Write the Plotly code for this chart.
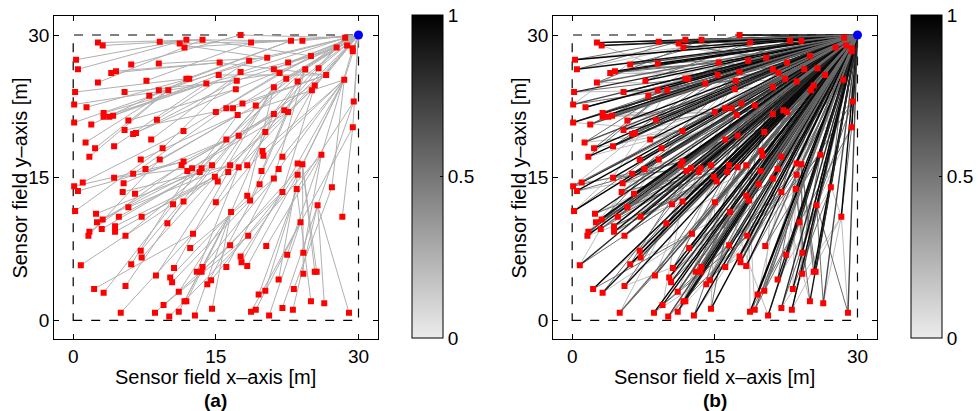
import numpy as np
import plotly.graph_objects as go

# ---------------- data (metres) ----------------
SENSOR_X = [
    2.6, 3.1, 9.1, 11.2, 11.9, 11.7, 13.6, 0.3, 0.5, 6.1, 9.0, 4.0, 4.5, 2.6, 7.7, 11.9, 12.2, 14.0,
    0.2, 5.4, 8.0, 9.0, 10.0, 0.1, 1.4, 3.2, 3.2, 3.8, 4.2, 0.1, 1.9, 5.8, 8.8, 5.4, 6.3, 6.6, 11.6,
    1.3, 2.3, 4.3, 8.2, 9.4, 1.7, 7.1, 9.1, 11.6, 11.4, 12.5, 12.0, 13.5, 13.3, 7.6,
    17.6, 18.7, 22.9, 24.1, 28.6, 27.7, 28.8, 29.4, 29.4, 15.4, 18.5, 20.4, 25.0, 22.6, 15.3, 17.6,
    21.1, 21.7, 24.4, 25.8, 26.6, 28.5, 17.2, 22.4, 23.6, 17.1, 21.1, 25.4, 25.1, 29.5, 15.0, 16.1,
    16.8, 17.8, 19.2, 17.3, 21.1, 22.2, 22.6, 29.4, 17.4, 16.1, 20.2, 19.9, 20.0, 22.0, 26.1, 14.6,
    16.5, 17.4, 18.3, 23.6, 24.1, 16.3, 19.8, 21.6,
    4.3, 6.3, 1.0, 0.1, 0.5, 5.3, 5.2, 6.5, 10.5, 11.6, 5.8, 0.2, 2.4, 4.8, 7.2, 3.1, 2.5, 3.0, 4.4,
    4.4, 1.7, 1.6, 5.5, 9.9, 12.6, 12.3, 7.1, 7.2, 6.1, 0.8, 10.6, 13.0, 13.5, 13.6, 8.7, 10.2, 10.4,
    5.5, 14.1, 2.2, 3.2, 11.1, 11.7, 11.9, 9.5, 5.0, 8.6, 11.1, 10.1, 12.8,
    14.9, 15.2, 23.6, 21.1, 19.6, 22.0, 23.5, 27.2, 18.3, 18.6, 15.0, 25.7, 16.6, 28.3, 23.9, 18.4,
    20.3, 16.5, 22.5, 24.2, 17.6, 17.7, 18.3, 16.1, 14.5, 21.6, 24.2, 25.4, 25.6, 23.2, 20.2, 19.5,
    25.0, 26.4, 14.6, 22.0, 23.1, 19.2, 18.7, 20.6, 29.0,
]
SENSOR_Y = [
    29.2, 28.9, 29.3, 29.1, 29.5, 28.7, 29.5, 27.4, 26.4, 26.9, 27.0, 26.0, 26.2, 25.0, 25.2, 25.4, 25.4, 24.9,
    24.0, 24.0, 23.6, 24.2, 24.2, 22.7, 22.4, 21.8, 21.4, 21.4, 21.5, 20.8, 20.6, 21.0, 21.1, 20.0, 19.6, 19.7, 19.9,
    18.7, 18.1, 18.3, 19.0, 18.1, 17.2, 16.9, 16.9, 16.7, 16.3, 16.0, 15.7, 16.0, 15.6, 15.9,
    30.0, 29.2, 29.4, 29.4, 29.7, 28.7, 28.9, 28.6, 28.3, 27.1, 27.3, 27.6, 27.8, 27.1, 25.8, 26.1,
    26.4, 26.0, 26.4, 26.5, 25.8, 25.3, 25.2, 25.4, 25.1, 24.3, 24.5, 24.7, 24.2, 23.0, 21.9, 22.3,
    22.3, 22.8, 22.6, 21.6, 21.7, 22.1, 21.9, 20.3, 19.4, 19.0, 19.8, 17.8, 17.3, 17.2, 17.4, 16.3,
    16.3, 16.1, 16.3, 16.5, 16.4, 15.6, 15.7, 15.9,
    15.0, 15.4, 14.5, 14.1, 13.6, 14.4, 13.5, 13.3, 12.2, 12.5, 11.9, 11.5, 11.2, 10.9, 10.9, 10.6, 10.3, 9.6, 9.9,
    9.3, 9.3, 8.9, 8.9, 10.2, 9.1, 7.6, 7.3, 6.6, 5.9, 5.8, 5.5, 5.1, 5.1, 5.6, 4.7, 4.5, 4.0,
    3.6, 3.8, 3.3, 2.9, 3.0, 2.0, 2.0, 1.6, 0.8, 0.8, 0.9, 0.4, 0.5,
    15.1, 14.6, 15.3, 14.9, 14.3, 13.5, 13.8, 14.0, 13.1, 12.6, 12.4, 12.1, 11.4, 10.9, 10.3, 8.9,
    7.8, 7.9, 6.9, 7.1, 6.7, 6.1, 5.7, 5.6, 4.2, 4.3, 4.9, 5.1, 5.1, 3.3, 3.1, 2.7,
    2.0, 1.8, 1.2, 1.3, 1.1, 1.1, 0.9, 0.5, 0.8,
]
SINK_X = [30.0]
SINK_Y = [30.0]
FIELD = [0, 30]
AXIS_TICKS = [0, 15, 30]
AXIS_RANGE = [-2, 32]
CBAR_TICKS = [0, 0.5, 1]
CBAR_LABELS = ["0", "0.5", "1"]
PANEL_LABELS = ["(a)", "(b)"]
X_TITLE = "Sensor field x\u2013axis [m]"
Y_TITLE = "Sensor field y\u2013axis [m]"

# ---------------- routing links derived from the node positions ----------------
px = np.array(SENSOR_X)
py = np.array(SENSOR_Y)
sx, sy = SINK_X[0], SINK_Y[0]
n = len(px)
d_sink = np.hypot(px - sx, py - sy)
RADIO_RANGE = 12.0

first_links, second_links = [], []
for i in range(n):
    cands = []
    if d_sink[i] <= RADIO_RANGE:
        cands.append((d_sink[i], -1))
    for j in range(n):
        if j != i and d_sink[j] < d_sink[i] - 0.5 and np.hypot(px[i] - px[j], py[i] - py[j]) <= RADIO_RANGE:
            cands.append((d_sink[i] - d_sink[j], j))
    cands.sort(key=lambda c: -c[0])
    if cands:
        first_links.append((i, cands[0][1]))
    if len(cands) > 1:
        second_links.append((i, cands[1][1]))


def seg_xy(links):
    xs, ys = [], []
    for i, j in links:
        x2, y2 = (sx, sy) if j < 0 else (px[j], py[j])
        xs += [px[i], x2, None]
        ys += [py[i], y2, None]
    return xs, ys


FONT = "Liberation Sans, Arial, Helvetica, sans-serif"
GRAY_SCALE = [[0.0, "rgb(236,236,236)"], [1.0, "rgb(0,0,0)"]]

fig = go.Figure()

for k, (xa, ya) in enumerate([("x", "y"), ("x2", "y2")]):
    if k == 1:
        xs, ys = seg_xy(second_links)
        fig.add_trace(go.Scatter(x=xs, y=ys, mode="lines", xaxis=xa, yaxis=ya,
                                 line=dict(color="#bdbdbd", width=1), hoverinfo="skip"))
    xs, ys = seg_xy(first_links)
    fig.add_trace(go.Scatter(x=xs, y=ys, mode="lines", xaxis=xa, yaxis=ya,
                             line=dict(color="#b0b0b0" if k == 0 else "#6e6e6e", width=1), hoverinfo="skip"))
    if k == 1:
        # direct links of every node to the sink, in several grey levels
        levels = ["#000000", "#141414", "#4a4a4a", "#050505", "#2a2a2a", "#0a0a0a", "#6a6a6a"]
        for li, col in enumerate(levels):
            idx = [i for i in range(n) if i % len(levels) == li]
            xs, ys = seg_xy([(i, -1) for i in idx])
            fig.add_trace(go.Scatter(x=xs, y=ys, mode="lines", xaxis=xa, yaxis=ya,
                                     line=dict(color=col, width=1.4), hoverinfo="skip"))
    # sensors
    fig.add_trace(go.Scatter(x=SENSOR_X, y=SENSOR_Y, mode="markers", xaxis=xa, yaxis=ya,
                             marker=dict(symbol="square", size=6, color="#ff0000",
                                         line=dict(width=0))))
    # sink
    fig.add_trace(go.Scatter(x=SINK_X, y=SINK_Y, mode="markers", xaxis=xa, yaxis=ya,
                             marker=dict(symbol="circle", size=9, color="#0000ff", line=dict(width=0))))
    # colour bar carrier
    cb_x = (413.3 + 500 * k) / 978
    fig.add_trace(go.Scatter(x=[sx, sx], y=[sy, sy], mode="markers", xaxis=xa, yaxis=ya,
                             hoverinfo="skip",
                             marker=dict(size=0.1, opacity=0, color=CBAR_TICKS[::2], cmin=0, cmax=1,
                                         colorscale=GRAY_SCALE, showscale=True,
                                         colorbar=dict(x=cb_x, xanchor="left", xpad=0, ypad=0,
                                                       y=1 - 176.5 / 411, yanchor="middle",
                                                       len=323, lenmode="pixels",
                                                       thickness=31, thicknessmode="pixels",
                                                       outlinecolor="black", outlinewidth=1,
                                                       tickvals=CBAR_TICKS, ticktext=CBAR_LABELS,
                                                       ticks="inside", ticklen=3, tickcolor="black",
                                                       tickfont=dict(family=FONT, size=19, color="black")))))

axis_common = dict(range=AXIS_RANGE, tickvals=AXIS_TICKS, ticks="inside", ticklen=5,
                   tickcolor="black", showline=True, linecolor="black", linewidth=1,
                   mirror="allticks", showgrid=False, zeroline=False,
                   tickfont=dict(family=FONT, size=19, color="black"))

y0p = 1 - 339.3 / 411
y1p = 1 - 16 / 411
doms = [[54.3 / 978, 378.3 / 978], [554.3 / 978, 878.3 / 978]]

fig.update_layout(
    width=978, height=411, margin=dict(l=0, r=0, t=0, b=0),
    paper_bgcolor="white", plot_bgcolor="white", showlegend=False,
    xaxis=dict(domain=doms[0], anchor="y", **axis_common),
    yaxis=dict(domain=[y0p, y1p], anchor="x", **axis_common),
    xaxis2=dict(domain=doms[1], anchor="y2", **axis_common),
    yaxis2=dict(domain=[y0p, y1p], anchor="x2", **axis_common),
)

for k in range(2):
    xr = "x" if k == 0 else "x2"
    yr = "y" if k == 0 else "y2"
    fig.add_shape(type="rect", xref=xr, yref=yr, x0=FIELD[0], x1=FIELD[1], y0=FIELD[0], y1=FIELD[1],
                  line=dict(color="black", width=1.2, dash="dash"), layer="below")
    cx = (doms[k][0] + doms[k][1]) / 2
    fig.add_annotation(text=X_TITLE, xref="paper", yref="paper", x=cx, y=1 - 377 / 411,
                       showarrow=False, xanchor="center", yanchor="middle",
                       font=dict(family=FONT, size=20, color="black"))
    fig.add_annotation(text="<b>" + PANEL_LABELS[k] + "</b>", xref="paper", yref="paper", x=cx,
                       y=1 - 400 / 411, showarrow=False, xanchor="center", yanchor="middle",
                       font=dict(family=FONT, size=19, color="black"))
    fig.add_annotation(text=Y_TITLE, xref="paper", yref="paper", x=(20 + 500 * k) / 978,
                       y=(y0p + y1p) / 2, textangle=-90, showarrow=False,
                       xanchor="center", yanchor="middle",
                       font=dict(family=FONT, size=20, color="black"))

fig.write_html("out.html", config={"displayModeBar": False},
               post_script="document.body.style.margin='0px';document.body.style.overflow='hidden';")
